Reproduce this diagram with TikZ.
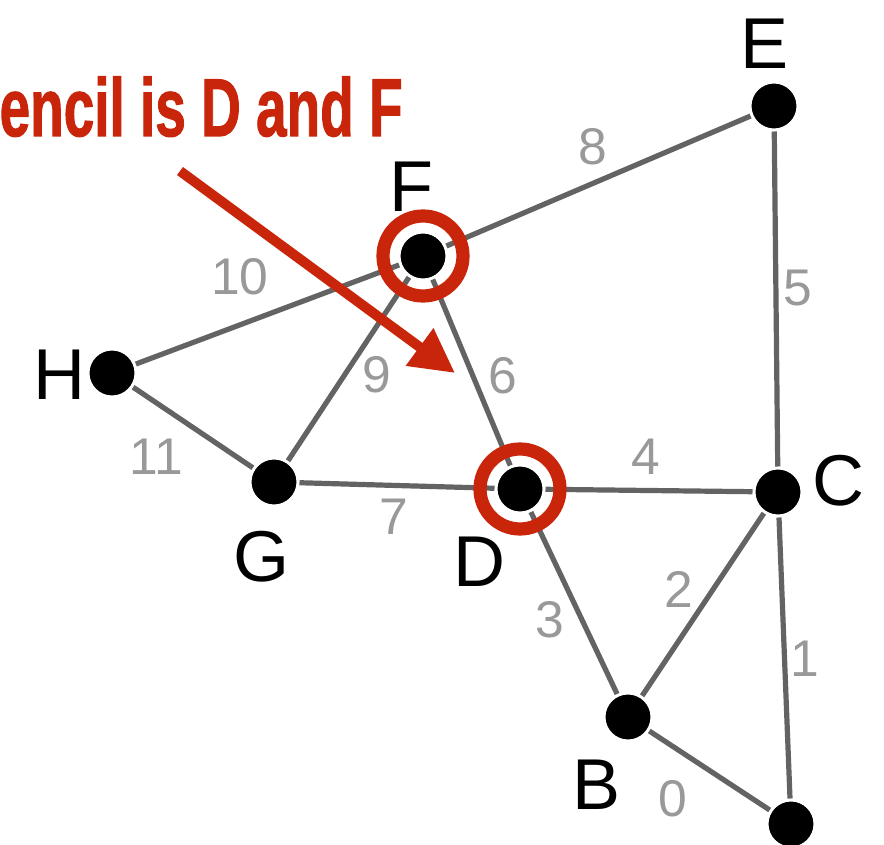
\documentclass[tikz,border=0pt]{standalone}
\usepackage{fontspec}
\setmainfont{Liberation Sans}
\newfontfamily\stencilfont{Liberation Sans}[BoldFeatures={FakeBold=1.6}]
\usepackage{graphicx}
\usetikzlibrary{arrows.meta}
\definecolor{edgegray}{HTML}{636363}
\definecolor{labelgray}{HTML}{999999}
\definecolor{stencilred}{HTML}{C8250A}

\begin{document}
\begin{tikzpicture}[x=0.5pt,y=-0.5pt,
  vertex/.style={circle,fill=black,draw=white,line width=1.5pt,minimum size=24pt,inner sep=0pt},
  edge/.style={draw=edgegray,line width=2.6pt},
  weight/.style={text=labelgray,font=\fontsize{25.8}{30}\selectfont,inner sep=0pt},
  vname/.style={font=\fontsize{36}{40}\selectfont,inner sep=0pt},
  ring/.style={circle,draw=stencilred,line width=6.6pt,minimum size=40pt,inner sep=0pt}]
\useasboundingbox (0,0) rectangle (884,845);

% vertices
\node[vertex] (E) at (774,106) {};
\node[vertex] (F) at (423,256) {};
\node[vertex] (H) at (112,373) {};
\node[vertex] (G) at (274,482) {};
\node[vertex] (D) at (520,489) {};
\node[vertex] (C) at (778,492) {};
\node[vertex] (B) at (628,717) {};
\node[vertex] (A) at (791,824) {};

% edges with weights
\foreach \a/\b/\w/\x/\y in {E/F/8/593/147, E/C/5/798/288, F/H/10/240/277,
    F/G/9/377/375, F/D/6/503/376, H/G/11/156/457, G/D/7/394/517,
    D/C/4/646/457, D/B/3/550/620, C/B/2/679/589, C/A/1/805/659, B/A/0/673/799}
{
  \draw[edge] (\a) -- (\b);
  \node[weight] (w\w) at (\x,\y) {\w};
}

% vertex names
\node[vname] (nE) at (765,44) {E};
\node[vname] (nF) at (411,187) {F};
\node[vname] (nH) at (59,375) {H};
\node[vname] (nG) at (262,557) {G};
\node[vname] (nD) at (479,562) {D};
\node[vname] (nC) at (838,481) {C};
\node[vname] (nB) at (597,785) {B};

% stencil
\node[ring] (ringF) at (F) {};
\node[ring] (ringD) at (D) {};
\node[anchor=base east,inner sep=0pt,text=stencilred,font=\stencilfont\bfseries\fontsize{41}{45}\selectfont]
  (stencil) at (403,136) {\scalebox{0.67}[1]{encil is D and F}};
\coordinate (arrowtail) at (180,171);
\coordinate (arrowtip) at (455,373);
\draw[stencilred,line width=5pt,-{Triangle[length=22pt,width=22pt]}] (arrowtail) -- (arrowtip);
\end{tikzpicture}
\end{document}
